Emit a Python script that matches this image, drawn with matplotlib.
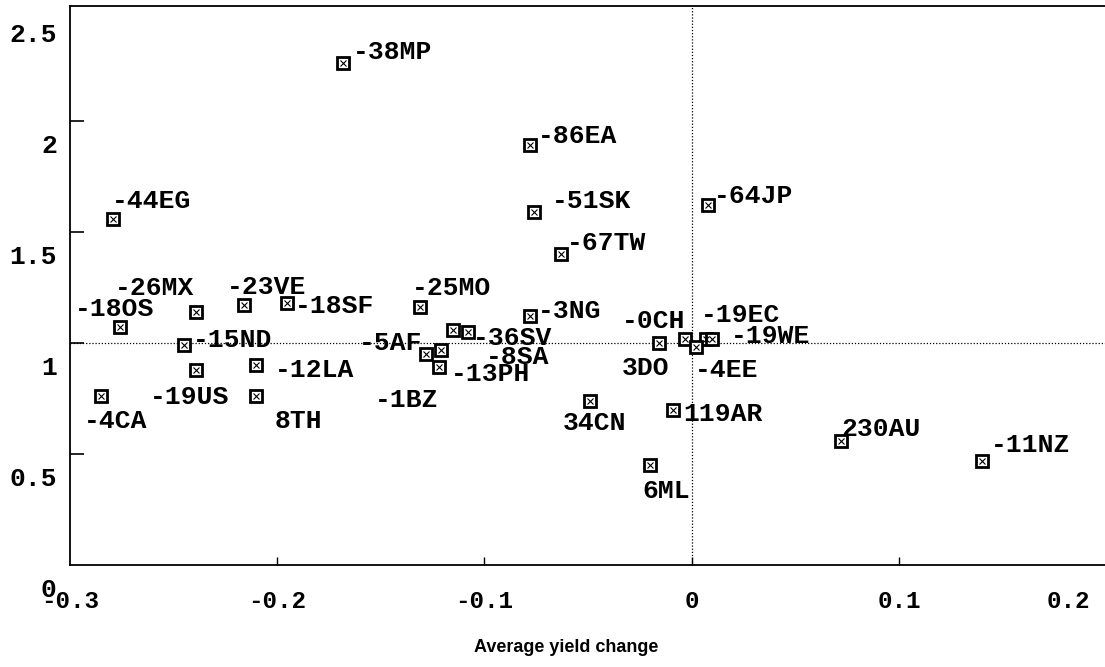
import matplotlib
matplotlib.use("Agg")
import matplotlib.pyplot as plt

# country codes and values
codes = ['-38MP', '-86EA', '-51SK', '-44EG', '-64JP', '-67TW', '-26MX', '-23VE',
         '-18SF', '-25MO', '-18OS', '-3NG', '-0CH', '-19EC', '-15ND', '-5AF',
         '-36SV', '-19WE', '-8SA', '-12LA', '3DO', '-4EE', '-19US', '-13PH',
         '-4CA', '8TH', '-1BZ', '34CN', '119AR', '230AU', '-11NZ', '6ML']
yield_change = [-0.168, -0.078, -0.076, -0.279, 0.008, -0.063, -0.239, -0.216,
                -0.195, -0.131, -0.276, -0.078, -0.003, 0.007, -0.245, -0.128,
                -0.108, 0.010, -0.121, -0.210, -0.016, 0.002, -0.239, -0.122,
                -0.285, -0.210, -0.115, -0.049, -0.009, 0.072, 0.140, -0.020]
ratio = [2.26, 1.89, 1.59, 1.56, 1.62, 1.40, 1.14, 1.17,
         1.18, 1.16, 1.07, 1.12, 1.02, 1.02, 0.99, 0.95,
         1.05, 1.02, 0.97, 0.90, 1.00, 0.98, 0.88, 0.89,
         0.76, 0.76, 1.06, 0.74, 0.70, 0.56, 0.47, 0.45]

xticks = [-0.3, -0.2, -0.1, 0, 0.1, 0.2]
xtick_labels = ['-0.3', '-0.2', '-0.1', '0', '0.1', '0.2']
yticks = [0, 0.5, 1, 1.5, 2, 2.5]
ytick_labels = ['0', '0.5', '1', '1.5', '2', '2.5']

# label placement (pixels right / down from the marker)
label_dx = [9, 8, 18, -1, 6, 6, -81, -17, 7, -8, -45, 8, -64, -5, 9, -67,
            5, 18, 45, 19, -37, -1, -46, 12, -17, 18, -78, -27, 10, 0, 9, -8]
label_dy = [-12, -10, -12, -19, -10, -12, -25, -19, 2, -20, -19, -6, -19, -25, -6, -12,
            5, -4, 6, 4, 24, 22, 26, 6, 24, 24, 69, 21, 3, -13, -17, 25]

mono = 'Liberation Mono'

fig = plt.figure(figsize=(11.05, 6.67), dpi=100)
W, H = 1105, 667
ax = fig.add_axes([69.8 / W, (H - 565) / H, (1106.3 - 69.8) / W, (565 - 6) / H])
ax.set_xlim(-0.3, 0.2)
ax.set_ylim(0, 2.518)

ax.axhline(1, color='black', ls=(0, (1, 1.5)), lw=0.9, zorder=1)
ax.axvline(0, color='black', ls=(0, (1, 1.5)), lw=0.9, zorder=1)

ax.plot(yield_change, ratio, 's', ms=8, mfc='white', mec='black', mew=2.0, zorder=3)
ax.plot(yield_change, ratio, 'x', ms=4, mec='black', mew=0.8, zorder=4)

for c, x, y, dx, dy in zip(codes, yield_change, ratio, label_dx, label_dy):
    ax.annotate(c, xy=(x, y), xytext=(dx, -(dy + 8)), textcoords='offset pixels',
                ha='left', va='baseline', fontsize=19, fontweight='bold', family=mono)

for s in ['left', 'bottom', 'top']:
    ax.spines[s].set_linewidth(1.3)
ax.spines['right'].set_visible(False)

# tick marks only inside the frame, labels drawn separately (shifted as in the scan)
ax.set_xticks(xticks[1:-1])
ax.set_yticks(yticks[1:-1])
ax.set_xticklabels([])
ax.set_yticklabels([])
ax.tick_params(axis='y', direction='in', length=10, width=1.2, right=False)
ax.tick_params(axis='x', direction='in', length=6, width=1.0, top=False)

for v, t in zip(yticks, ytick_labels):
    ax.annotate(t, xy=(0, v), xycoords=('axes fraction', 'data'), xytext=(-13, -32),
                textcoords='offset pixels', ha='right', va='baseline',
                fontsize=19, fontweight='bold', family=mono, annotation_clip=False)

for v, t in zip(xticks, xtick_labels):
    dx = -38 if t == '0.2' else 0
    ax.annotate(t, xy=(v, 0), xycoords=('data', 'axes fraction'), xytext=(dx, -43),
                textcoords='offset pixels', ha='center', va='baseline',
                fontsize=17.5, fontweight='bold', family=mono, annotation_clip=False)

fig.text(566 / W, 1 - 648 / H, 'Average yield change', ha='center', va='center',
         fontsize=13, fontweight='bold', family=['Liberation Sans Narrow', 'Liberation Sans'])

fig.savefig('out.png', dpi=100)
